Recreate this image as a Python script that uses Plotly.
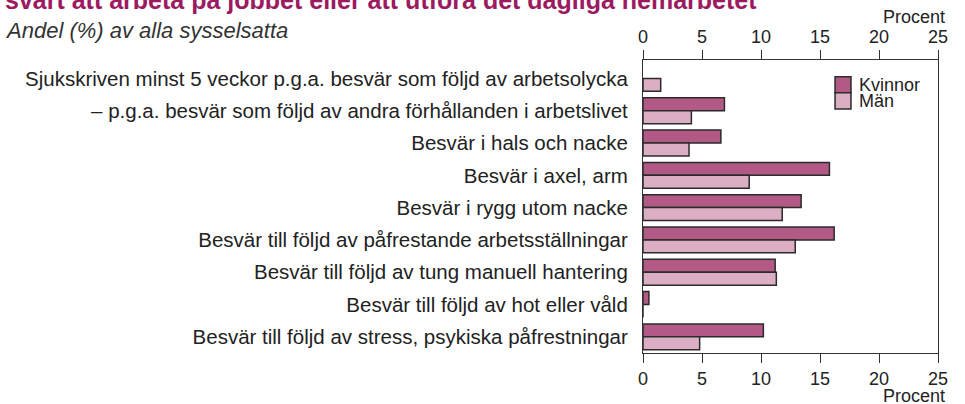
import plotly.graph_objects as go

categories = [
    "Sjukskriven minst 5 veckor p.g.a. besvär som följd av arbetsolycka",
    "– p.g.a. besvär som följd av andra förhållanden i arbetslivet",
    "Besvär i hals och nacke",
    "Besvär i axel, arm",
    "Besvär i rygg utom nacke",
    "Besvär till följd av påfrestande arbetsställningar",
    "Besvär till följd av tung manuell hantering",
    "Besvär till följd av hot eller våld",
    "Besvär till följd av stress, psykiska påfrestningar",
]
kvinnor = [None, 6.9, 6.6, 15.8, 13.4, 16.2, 11.2, 0.5, 10.2]
man = [1.5, 4.1, 3.9, 9.0, 11.8, 12.9, 11.3, 0.0, 4.8]
tick_vals = [0, 5, 10, 15, 20, 25]

KV_COLOR = "#b25a85"
MAN_COLOR = "#dcaec3"
EDGE = "#2b2b2b"
TEXT = "#222222"
FONT = "Liberation Sans, Arial, sans-serif"

fig = go.Figure()
fig.add_trace(go.Bar(
    name="Kvinnor", y=categories, x=kvinnor, orientation="h",
    marker=dict(color=KV_COLOR, line=dict(color=EDGE, width=1.5)),
))
fig.add_trace(go.Bar(
    name="Män", y=categories, x=man, orientation="h",
    marker=dict(color=MAN_COLOR, line=dict(color=EDGE, width=1.5)),
))
# invisible trace to carry the top axis
fig.add_trace(go.Scatter(x=[0, 25], y=[categories[0], categories[0]], xaxis="x2",
                         mode="markers", marker=dict(opacity=0), showlegend=False,
                         hoverinfo="skip"))

axis_common = dict(
    range=[0, 25], tickvals=tick_vals, ticks="outside", ticklen=9,
    tickcolor="#333", tickwidth=1, showgrid=False, zeroline=False,
    tickfont=dict(family=FONT, size=18, color=TEXT),
)

fig.update_layout(
    width=965, height=404,
    margin=dict(l=643, r=27, t=60, b=51),
    paper_bgcolor="white", plot_bgcolor="white",
    barmode="group", bargap=0.2, bargroupgap=0,
    showlegend=False,
    font=dict(family=FONT, size=18, color=TEXT),
    xaxis=dict(**axis_common, showline=True, linecolor="#333", linewidth=1.2,
               mirror=True),
    xaxis2=dict(**axis_common, overlaying="x", side="top", showline=False),
    yaxis=dict(autorange="reversed", showline=True, linecolor="#333",
               linewidth=1.2, mirror=True, ticks="", showgrid=False,
               ticklabelstandoff=10,
               tickfont=dict(family=FONT, size=20.5, color=TEXT)),
)

# Legend swatches and labels
legend_items = [("Kvinnor", KV_COLOR), ("Män", MAN_COLOR)]
sw_x0, sw_x1 = 0.651, 0.705
sw_top, sw_h = 0.943, 0.055
for i, (label, color) in enumerate(legend_items):
    y1 = sw_top - i * sw_h
    y0 = y1 - sw_h
    fig.add_shape(type="rect", xref="paper", yref="paper",
                  x0=sw_x0, x1=sw_x1, y0=y0, y1=y1,
                  fillcolor=color, line=dict(color=EDGE, width=1.5))
    fig.add_annotation(xref="paper", yref="paper", x=0.727, y=(y0 + y1) / 2,
                       text=label, showarrow=False, xanchor="left",
                       yanchor="middle", height=16, valign="middle",
                       font=dict(family=FONT, size=18, color=TEXT))

# Axis unit labels
fig.add_annotation(xref="paper", yref="paper", x=1.03, y=1.147, text="Procent",
                   showarrow=False, xanchor="right", yanchor="middle",
                   font=dict(family=FONT, size=18, color=TEXT))
fig.add_annotation(xref="paper", yref="paper", x=1.03, y=-0.148, text="Procent",
                   showarrow=False, xanchor="right", yanchor="middle",
                   font=dict(family=FONT, size=18, color=TEXT))

# Heading and subheading
fig.add_annotation(xref="paper", yref="paper", x=-2.168, y=1.206,
                   text="<b>svårt att arbeta på jobbet eller att utföra det dagliga hemarbetet</b>",
                   showarrow=False, xanchor="left", yanchor="middle",
                   font=dict(family=FONT, size=25, color="#9c1a5f"))
fig.add_annotation(xref="paper", yref="paper", x=-2.168, y=1.100,
                   text="<i>Andel (%) av alla sysselsatta</i>",
                   showarrow=False, xanchor="left", yanchor="middle",
                   font=dict(family=FONT, size=22, color="#333333"))

fig.write_html("out.html")
